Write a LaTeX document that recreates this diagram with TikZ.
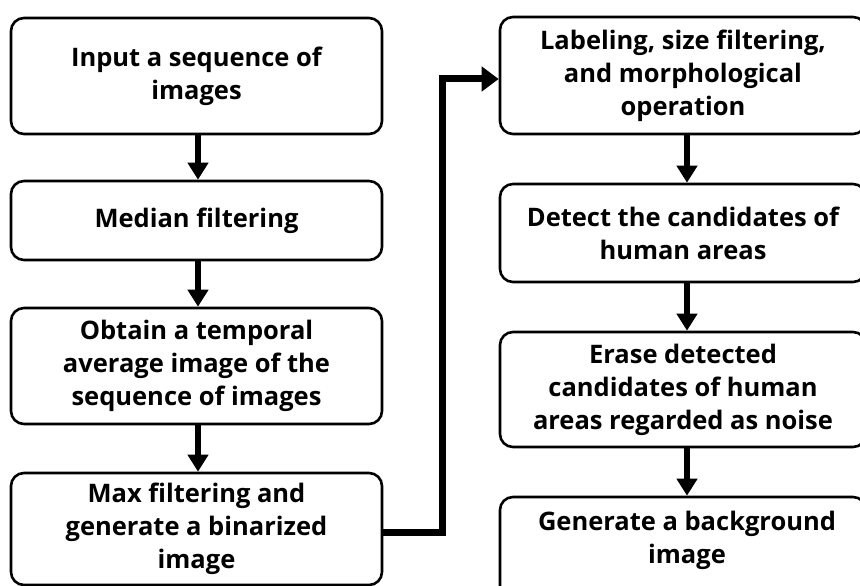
\documentclass[tikz,border=0pt]{standalone}
\usepackage{fontspec}
\setmainfont{Open Sans}
\usetikzlibrary{arrows.meta}
\begin{document}
\begin{tikzpicture}[x=1pt,y=-1pt,
  box/.style={draw=black,line width=2.6pt,rounded corners=13pt,align=center,
    font=\fontsize{25.5}{33}\selectfont\bfseries,inner sep=0pt},
  lbl/.style={align=center,font=\fontsize{25.5}{33}\selectfont\bfseries,inner sep=0pt},
  flow/.style={line width=6pt,-{Triangle[length=17pt,width=20pt]}},
  link/.style={line width=7pt,-{Triangle[length=17pt,width=24pt]}}]
\useasboundingbox (0,0) rectangle (860,586);
\clip (0,0) rectangle (860,586);
% left column
\node[box,minimum width=371pt,minimum height=116pt] (L1) at (196.5,76) {Input a sequence of\\images};
\node[box,minimum width=371pt,minimum height=79pt] (L2) at (196.5,220.5) {Median filtering};
\node[box,minimum width=371pt,minimum height=116pt] (L3) at (196.5,366) {Obtain a temporal\\average image of the\\sequence of images};
\node[box,minimum width=371pt,minimum height=112pt] (L4) at (196.5,529) {Max filtering and\\generate a binarized\\image};
% right column
\node[box,minimum width=366pt,minimum height=117pt] (R1) at (683,75.5) {Labeling, size filtering,\\and morphological\\operation};
\node[box,minimum width=366pt,minimum height=98pt] (R2) at (683,233) {Detect the candidates of\\human areas};
\node[box,minimum width=366pt,minimum height=115pt] (R3) at (683,389.5) {Erase detected\\candidates of human\\areas regarded as noise};
\node[box,minimum width=366pt,minimum height=120pt] (R4) at (683,557) {};
\node[lbl] (R4t) at (687,540) {Generate a background\\image};
% arrows
\draw[flow] (L1.south -| 198,0) -- (L2.north -| 198,0);
\draw[flow] (L2.south -| 198,0) -- (L3.north -| 198,0);
\draw[flow] (L3.south -| 198,0) -- (L4.north -| 198,0);
\draw[flow] (R1.south -| 687,0) -- (R2.north -| 687,0);
\draw[flow] (R2.south -| 687,0) -- (R3.north -| 687,0);
\draw[flow] (R3.south -| 687,0) -- (R4.north -| 687,0);
\coordinate (c1) at (442,532);
\coordinate (c2) at (442,79);
\draw[link] (L4.east |- c1) -- (c1) -- (c2) -- (R1.west |- c2);
\end{tikzpicture}
\end{document}
